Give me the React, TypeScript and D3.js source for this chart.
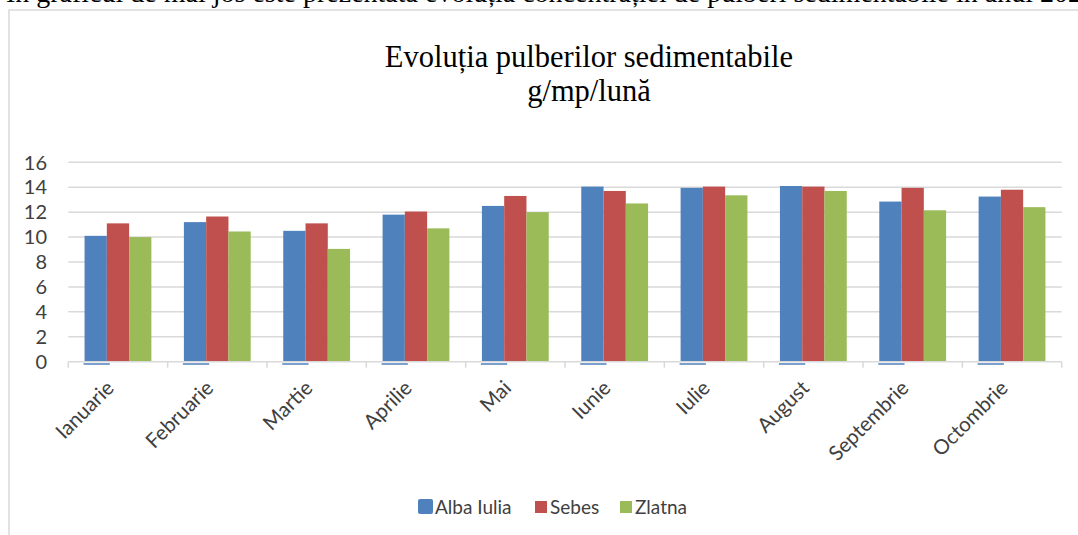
import React from "react";
import * as d3 from "d3";

const months = ["Ianuarie", "Februarie", "Martie", "Aprilie", "Mai", "Iunie", "Iulie", "August", "Septembrie", "Octombrie"];
const seriesNames = ["Alba Iulia", "Sebes", "Zlatna"];
const albaIulia = [10.1, 11.2, 10.5, 11.8, 12.5, 14.05, 13.95, 14.1, 12.85, 13.25];
const sebes = [11.1, 11.65, 11.1, 12.05, 13.3, 13.7, 14.05, 14.05, 13.95, 13.8];
const zlatna = [10.0, 10.45, 9.05, 10.7, 12.0, 12.7, 13.35, 13.7, 12.15, 12.4];
const yTicks = [0, 2, 4, 6, 8, 10, 12, 14, 16];
const colors = ["#4f81bd", "#c0504d", "#9bbb59"];

const W = 1078;
const H = 535;
const sans = "Lato, 'Open Sans', sans-serif";
const serif = "'Liberation Serif', 'Times New Roman', serif";

export default function App() {
  const values = [albaIulia, sebes, zlatna];
  const y = d3.scaleLinear().domain([0, 16]).range([361.7, 162.3]);
  const x = d3.scaleBand<string>().domain(months).range([68.3, 1061.7]).paddingInner(0).paddingOuter(0);
  const xs = d3.scaleBand<string>().domain(seriesNames).range([0, x.bandwidth()]).paddingInner(0).paddingOuter(0.73);
  const legendX = [418, 533, 618];

  return (
    <div style={{ position: "absolute", left: 0, top: 0 }}>
      <svg width={W} height={H} style={{ display: "block", background: "#fff" }}>
        <text x={1096} y={1.5} textAnchor="end" fontFamily={serif} fontSize={28} fill="#000">
          În graficul de mai jos este prezentată evoluția concentrației de pulberi sedimentabile în anul 2021
        </text>
        <rect x={9} y={10} width={W} height={H} fill="none" stroke="#d9d9d9" strokeWidth={1.5} />
        <text x={589} y={66.5} textAnchor="middle" fontFamily={serif} fontSize={30.5} fill="#000">
          Evoluția pulberilor sedimentabile
        </text>
        <text x={589} y={100.5} textAnchor="middle" fontFamily={serif} fontSize={30.5} fill="#000">
          g/mp/lună
        </text>
        {yTicks.map((t) => (
          <g key={t}>
            {t > 0 && (
              <line x1={68.3} x2={1061.7} y1={y(t)} y2={y(t)} stroke="#d9d9d9" strokeWidth={1.5} />
            )}
            <text x={47} y={y(t)} dy="0.36em" textAnchor="end" fontFamily={sans} fontSize={20} fill="#404040">
              {t}
            </text>
          </g>
        ))}
        {months.map((m, i) => (
          <g key={m}>
            {seriesNames.map((s, j) => (
              <rect
                key={s}
                x={(x(m) as number) + (xs(s) as number)}
                y={y(values[j][i])}
                width={xs.bandwidth()}
                height={y(0) - y(values[j][i])}
                fill={colors[j]}
              />
            ))}
            <line
              x1={(x(m) as number) + (xs(seriesNames[0]) as number) - 1}
              x2={(x(m) as number) + (xs(seriesNames[0]) as number) + xs.bandwidth() + 3}
              y1={364}
              y2={364}
              stroke={colors[0]}
              strokeWidth={1.5}
            />
          </g>
        ))}
        <line x1={68.3} x2={1061.7} y1={y(0)} y2={y(0)} stroke="#d9d9d9" strokeWidth={1.5} />
        {[...months.map((m) => x(m) as number), 1061.7].map((tx, i) => (
          <line key={i} x1={tx} x2={tx} y1={y(0)} y2={y(0) + 6} stroke="#d9d9d9" strokeWidth={1.5} />
        ))}
        {months.map((m) => {
          const cx = (x(m) as number) + x.bandwidth() / 2;
          return (
            <text
              key={m}
              transform={`translate(${cx - 8},${384}) rotate(-45)`}
              textAnchor="end"
              dy="0.36em"
              fontFamily={sans}
              fontSize={20.5}
              fill="#404040"
            >
              {m}
            </text>
          );
        })}
        {seriesNames.map((s, j) => (
          <g key={s}>
            <rect x={legendX[j] + (j === 0 ? 0 : 2)} y={j === 0 ? 499 : 501} width={j === 0 ? 15 : 12} height={j === 0 ? 15 : 12} rx={j === 0 ? 2 : 0} fill={colors[j]} />
            <text x={legendX[j] + 17} y={507} dy="0.36em" fontFamily={sans} fontSize={19} fill="#404040">
              {s}
            </text>
          </g>
        ))}
      </svg>
    </div>
  );
}
